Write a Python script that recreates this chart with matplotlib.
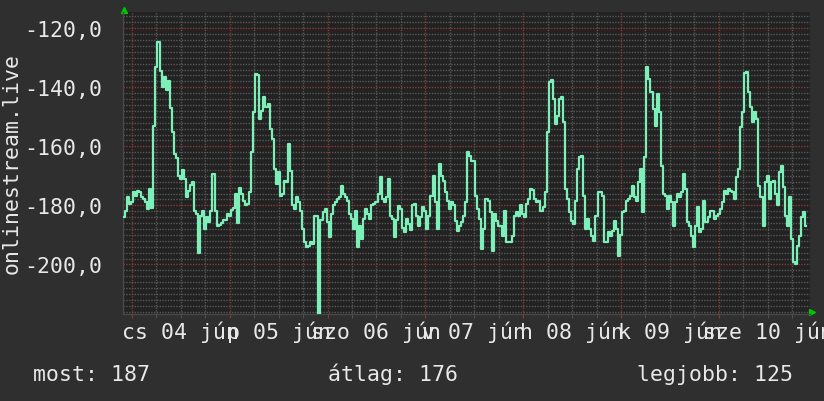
import matplotlib
matplotlib.use("Agg")
import matplotlib.pyplot as plt
import matplotlib.dates as mdates
from matplotlib.ticker import MultipleLocator, FuncFormatter
import matplotlib.transforms as mtransforms
import pandas as pd

plt.rcParams["font.family"] = ["DejaVu Sans Mono"]

# 30 minute samples, 2020-06-03 22:00 .. 2020-06-10 21:30
start = "2020-06-03 22:00"
values = [
    -184, -182, -177, -179.5, -179, -175.6, -176.7, -175, -175.6, -177.3,
    -177.9, -179, -181.2, -174.5, -181, -153, -133, -124.5, -134.6, -140,
    -136.6, -141, -138, -147, -155, -162.5, -164, -170, -171, -168,
    -171, -177, -175, -173, -172, -182, -183, -196, -183.5, -182,
    -188, -184, -185.5, -182, -169.4, -182, -187, -186.5, -186, -185,
    -185, -183, -183.5, -181.5, -181, -176, -186,
    # day 2
    -174, -176, -178.4, -180, -179.5, -175.6, -162, -148.5, -135.5, -136,
    -150.7, -148, -143.4, -146.8, -145.6, -154, -157.5, -167.7, -172.8, -168.8,
    -176.7, -176, -171.6, -172.2, -159.2, -168.2, -180, -181.2, -177.3, -179,
    -181.8, -188, -192.5, -194.2, -193.7, -192.5, -193.1, -183.5, -183.5, -216.8,
    -185, -182.4, -181.2, -185.7, -190.8, -182.9, -180, -179, -177.9, -177.3,
    -173.3, -176, -177.3, -178.4, -182.9, -184.6, -188,
    # day 3
    -182, -194.2, -187, -191.4, -184.6, -181.2, -183, -184.6, -180, -179.5,
    -179, -176, -170.5, -178, -179, -177.3, -171, -183.5, -184.6, -190.8,
    -185, -180.3, -181.2, -187.5, -189, -184.6, -186.3, -188.4, -180, -179.5,
    -183.5, -187, -184, -180.7, -181.8, -188, -183.5, -176.7, -170, -179,
    -188, -166, -170, -171.6, -175.6, -178.4, -181.2, -179, -180, -185.2,
    -188.6, -186.9, -185.8, -183.5, -179, -162,
    # day 4
    -163.2, -164.9, -165, -176.7, -181.2, -184.6, -194.8, -188, -177.9, -178.4,
    -182.4, -195.4, -183, -185.2, -186.9, -187, -190.3, -181.8, -192.5, -192.5,
    -192.5, -190.3, -183.5, -182.4, -183.5, -180, -183, -184, -179.5, -178,
    -174.5, -174.7, -178, -179, -178.4, -182, -180.7, -175.6, -155.3, -138.3,
    -137.7, -144, -152.4, -149.6, -144, -143.4, -151.9, -174.5, -177.9, -182.4,
    -185.2, -186.3, -178.4, -167.7, -163.7, -163.2, -176.7,
    # day 5
    -188, -184.6, -188, -190.3, -192, -183.5, -175.6, -175.6, -176.7, -192.5,
    -192.3, -189, -190.3, -188.6, -185.2, -188, -197, -190, -182.4, -181.8,
    -178.4, -177.9, -176.7, -173.3, -177.3, -178.4, -172, -167.7, -182.4, -163.7,
    -133.2, -137.2, -141.7, -147.3, -153, -142.3, -148.5, -166.6, -176.2, -176.7,
    -181.2, -176.7, -179, -187, -179, -176.2, -177.3, -175.6, -169.4, -174.5,
    -185.8, -186.9, -190.3, -194.2, -186.9, -180.7,
    # day 6
    -189, -188, -178.4, -185.8, -184, -181.8, -181.8, -184.6, -183.5, -183,
    -181.2, -179, -175, -176.2, -174.5, -175, -175.6, -178, -170.5, -167.7,
    -153.6, -148.5, -135, -134.9, -141.7, -146.8, -151.9, -148.5, -150.7, -173.3,
    -177.3, -187, -172.2, -170, -177.9, -172.2, -171.6, -176.2, -180, -168.8,
    -166.6, -173.9, -183.5, -187, -177.3, -191.4, -199.3, -199.9, -193.7, -190.3,
    -184, -182.4, -187,
]
times = pd.date_range(start, periods=len(values), freq="30min")

day_labels = ["cs 04 jún", "p 05 jún", "szo 06 jún", "v 07 jún",
              "h 08 jún", "k 09 jún", "sze 10 jún"]
days = pd.date_range("2020-06-04", periods=len(day_labels), freq="D")

y_label = "onlinestream.live"
legend_texts = ["most: 187", "átlag: 176", "legjobb: 125"]

bg = "#2f2f2f"
canvas = "#222222"
txt = "#e8e8e8"
minor_col = "#585858"
major_col = "#8a3838"
line_col = "#7cf0b8"

fig = plt.figure(figsize=(8.24, 4.02), dpi=100, facecolor=bg)
ax = fig.add_axes([123 / 824, 1 - 315 / 402, 687 / 824, 302 / 402], facecolor=canvas)

ax.plot(times, values, drawstyle="steps-mid", color=line_col, lw=1.6, zorder=3)

ax.set_xlim(pd.Timestamp("2020-06-03 21:47"), pd.Timestamp("2020-06-10 22:24"))
ax.set_ylim(-216.8, -114.5)

ax.xaxis.set_major_locator(mdates.DayLocator())
ax.xaxis.set_minor_locator(mdates.HourLocator(byhour=[0, 6, 12, 18]))
ax.xaxis.set_major_formatter(FuncFormatter(lambda v, p: ""))
ax.yaxis.set_major_locator(MultipleLocator(20))
ax.yaxis.set_minor_locator(MultipleLocator(2))
ax.yaxis.set_major_formatter(FuncFormatter(lambda v, p: f"{v:.1f}".replace(".", ",")))

dots = (0, (1, 1))
ax.grid(which="minor", color=minor_col, lw=1, ls=dots)
ax.grid(which="major", color=major_col, lw=1, ls=dots)
ax.set_axisbelow(True)

ax.tick_params(axis="y", which="both", length=0, pad=15, labelsize=15.5, labelcolor=txt)
ax.tick_params(axis="x", which="major", length=3, color=major_col)
ax.tick_params(axis="x", which="minor", length=3, color=minor_col)

for side in ["top", "right"]:
    ax.spines[side].set_visible(False)
for side in ["left", "bottom"]:
    ax.spines[side].set_color("#484848")
    ax.spines[side].set_linewidth(1)

# day labels centred on noon, as rrdtool does
trans = mtransforms.blended_transform_factory(ax.transData, fig.transFigure)
for d, lab in zip(days, day_labels):
    ax.text(d + pd.Timedelta(hours=12), 1 - 339 / 402, lab, transform=trans,
            ha="center", va="baseline", color=txt, fontsize=15.5, clip_on=False)

# axis arrows
ax.plot([0.0015], [1.008], marker="^", color="#00c800", ms=4.5,
        transform=ax.transAxes, clip_on=False)
ax.plot([1.0036], [0.0066], marker=">", color="#00c800", ms=4.5,
        transform=ax.transAxes, clip_on=False)

fig.text(12 / 824, 1 - 164 / 402, y_label, rotation=90, ha="center", va="center",
         color=txt, fontsize=15.5)

for xpos, s in zip([33, 328, 637], legend_texts):
    fig.text(xpos / 824, 1 - 381 / 402, s, ha="left", va="baseline",
             color=txt, fontsize=15.5)

fig.savefig("out.png", dpi=100, facecolor=bg)
